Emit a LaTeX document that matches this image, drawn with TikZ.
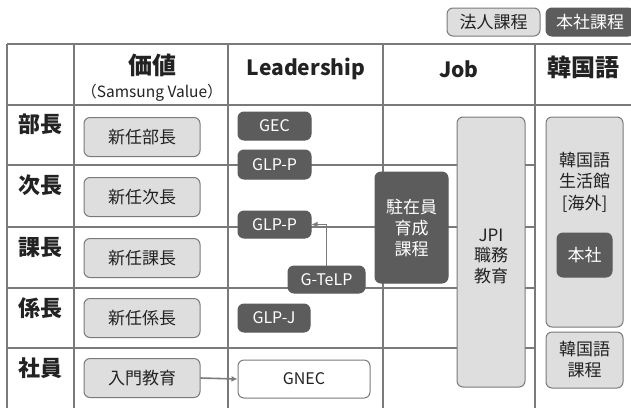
\documentclass[tikz,border=0pt]{standalone}
\usepackage{fontspec}
\setmainfont{Noto Sans CJK JP}
\usetikzlibrary{arrows.meta}
\definecolor{lineg}{HTML}{7A7A7A}
\definecolor{lightf}{HTML}{DEDEDE}
\definecolor{darkf}{HTML}{5C5C5C}
\definecolor{txt}{HTML}{222222}
\tikzset{
  grid/.style={draw=lineg, line width=1.2pt},
  basebox/.style={rounded corners=6pt, line width=1pt, inner sep=0pt, align=center},
  lightbox/.style={basebox, fill=lightf, draw=lineg, text=txt},
  darkbox/.style={basebox, fill=darkf, draw=darkf, text=white},
  whitebox/.style={basebox, fill=white, draw=lineg, text=txt},
  rowlab/.style={font=\fontsize{22}{24}\selectfont\bfseries, text=txt},
  head/.style={font=\fontsize{24}{26}\selectfont\bfseries, text=txt},
  lhead/.style={font=\fontsize{21}{24}\selectfont\bfseries, text=txt},
  btxt/.style={font=\fontsize{17}{21}\selectfont},
  ltxt/.style={font=\fontsize{16}{20}\selectfont},
  arr/.style={draw=lineg, line width=1.6pt, -{Latex[length=6pt,width=6pt]}}
}
\begin{document}
\begin{tikzpicture}[x=1pt,y=-1pt]
\useasboundingbox (0,0) rectangle (631,408);
% grid
\foreach \yy in {44,105} \draw[grid] (7,\yy) -- (631,\yy);
\foreach \yy in {165,227,288,348} \draw[grid] (7,\yy) -- (535,\yy);
\foreach \xx in {7,74,228,383,535} \draw[grid] (\xx,44) -- (\xx,408);
% legend
\node[lightbox, btxt, minimum width=93pt, minimum height=28pt] (leg1) at (493.5,22) {法人課程};
\node[darkbox, btxt, minimum width=88pt, minimum height=28pt] (leg2) at (590,22) {本社課程};
% headers
\node[head] (hkachi) at (152,65) {価値};
\node[font=\fontsize{15.5}{18}\selectfont, text=txt] (hsv) at (152,93) {（Samsung Value）};
\node[lhead] (hlead) at (306,69) {Leadership};
\node[lhead] (hjob) at (459,69) {Job};
\node[head] (hkor) at (583,67) {韓国語};
% row labels
\node[rowlab] (r1) at (40,124) {部長};
\node[rowlab] (r2) at (40,185) {次長};
\node[rowlab] (r3) at (40,247) {課長};
\node[rowlab] (r4) at (40,308) {係長};
\node[rowlab] (r5) at (40,368) {社員};
% value column
\node[lightbox, btxt, minimum width=116pt, minimum height=39pt] (v1) at (142,137) {新任部長};
\node[lightbox, btxt, minimum width=116pt, minimum height=39pt] (v2) at (142,197) {新任次長};
\node[lightbox, btxt, minimum width=116pt, minimum height=39pt] (v3) at (142,258) {新任課長};
\node[lightbox, btxt, minimum width=116pt, minimum height=39pt] (v4) at (142,318) {新任係長};
\node[lightbox, btxt, minimum width=116pt, minimum height=39pt] (v5) at (142,378) {入門教育};
% leadership column
\node[darkbox, ltxt, minimum width=73pt, minimum height=28pt] (gec) at (274.5,126) {GEC};
\node[darkbox, ltxt, minimum width=73pt, minimum height=29pt] (glpp1) at (274.5,164.5) {GLP-P};
\node[darkbox, ltxt, minimum width=73pt, minimum height=27pt] (glpp2) at (274.5,224.5) {GLP-P};
\node[darkbox, ltxt, minimum width=77pt, minimum height=27pt] (gtelp) at (326.5,279.5) {G-TeLP};
\node[darkbox, ltxt, minimum width=72pt, minimum height=28pt] (glpj) at (274,318) {GLP-J};
\node[whitebox, ltxt, minimum width=132pt, minimum height=38pt] (gnec) at (304,379) {GNEC};
% job column
\node[darkbox, btxt, minimum width=73pt, minimum height=111pt] (chuzai) at (411.5,227.5) {駐在員\\育成\\課程};
\node[lightbox, minimum width=68pt, minimum height=270pt] (jpi) at (491,252) {};
\node[text=txt, font=\fontsize{17}{20.5}\selectfont, align=center] (jpit) at (491,256) {JPI\\職務\\教育};
% korean column
\node[lightbox, minimum width=77pt, minimum height=210pt] (seikatsu) at (584.5,222) {};
\node[text=txt, font=\fontsize{17}{21.5}\selectfont, align=center] (seikatsut) at (584.5,182) {韓国語\\生活館\\{[}海外{]}};
\node[darkbox, btxt, minimum width=55pt, minimum height=44pt] (honsha) at (584.5,255) {本社};
\node[lightbox, font=\fontsize{17}{21}\selectfont, minimum width=77pt, minimum height=56pt] (korkatei) at (584.5,360) {韓国語\\課程};
% arrows
\draw[arr] (gtelp.north) -- (gtelp.north |- glpp2.east) -- (glpp2.east);
\draw[arr] (v5.east) -- (gnec.west);
\end{tikzpicture}
\end{document}
